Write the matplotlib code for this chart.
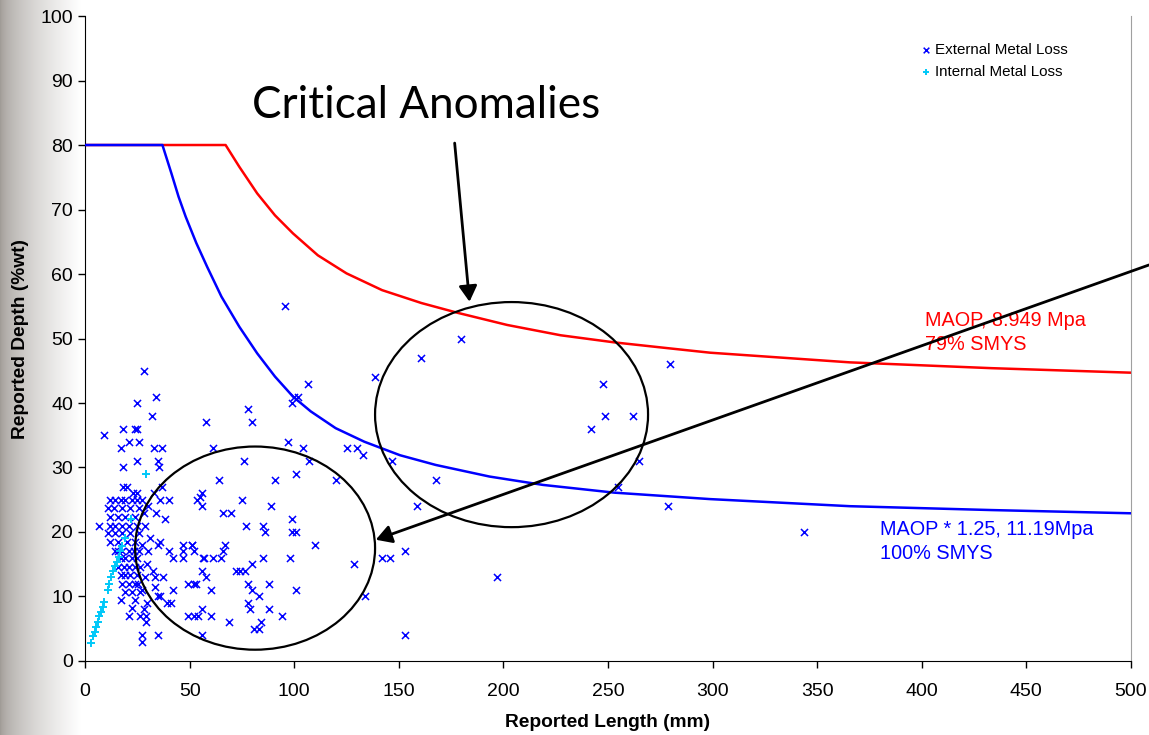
import numpy as np
import matplotlib.pyplot as plt
from matplotlib.patches import Ellipse

# limit curves
red_x = [0, 67.2, 73.8, 82.3, 90.8, 99.4, 111.3, 125.0, 142.0, 160.8, 177.9, 201.8, 227.4,
         253.0, 278.6, 298.8, 365.7, 433.4, 500]
red_y = [80, 80, 76.6, 72.5, 69.1, 66.3, 62.9, 60.1, 57.5, 55.5, 54.0, 52.1, 50.5,
         49.4, 48.5, 47.8, 46.3, 45.4, 44.7]
blue_x = [0, 37.0, 41.3, 44.7, 48.1, 53.2, 58.4, 65.2, 73.8, 82.3, 90.8, 99.4, 107.9, 119.8,
          133.5, 150.6, 167.6, 193.3, 218.9, 253.0, 298.8, 365.7, 433.4, 500]
blue_y = [80, 80, 75.6, 72.0, 68.9, 64.8, 61.1, 56.5, 51.8, 47.7, 44.1, 41.0, 38.7, 36.1,
          34.0, 31.9, 30.4, 28.6, 27.3, 26.1, 25.1, 24.0, 23.4, 22.9]

# external metal loss anomalies
ext_x = [343.7, 95.6, 138.6, 179.7, 160.8, 279.6, 247.8, 248.7, 261.8, 241.7, 146.9, 167.8,
         264.8, 158.9, 254.9, 278.8, 142, 146, 153, 196.8, 153, 128.7, 133.8,
         106.8, 100, 102, 98.8, 78, 58, 80, 97, 104, 61, 125, 130, 133, 76, 107, 64, 91,
         101, 120, 56, 53.7, 56, 75, 89, 66, 70, 99, 77, 85, 86, 99, 101, 110, 51, 52,
         67, 66, 57, 61, 65, 85, 98, 80, 72, 74, 76.5, 56, 58, 52, 60, 78, 80, 83, 88,
         101, 78, 79, 88, 56, 54, 52, 60, 94, 69, 84, 81, 83, 56,
         28, 34, 32, 25, 24.7, 26, 33, 37, 35, 35.5, 25, 37, 40, 33, 36, 55, 47, 51, 47,
         47, 56.6, 49, 53, 42, 39, 41, 49, 35, 27, 27, 29, 29, 35,
         9, 18, 24, 17, 21, 18, 18, 20, 23,
         12, 14.5, 17, 19, 22.5, 25,
         11, 13.7, 17.7, 21.7, 25.7,
         12, 16, 19.3, 24,
         6.5,
         12, 14.5, 17.7, 21, 25,
         11, 14.5, 17.7, 21.7, 25.7,
         12, 16, 20, 24,
         14.5, 16, 17.7, 21, 23.3, 25.7,
         17, 19.3, 22.5, 25,
         16, 18.5, 21, 24, 26.4,
         17, 19.3, 21.7, 25,
         17.7, 21, 24,
         19.3, 22.5, 26.4,
         17, 21, 22.5, 24, 26.4,
         24.7, 27, 30, 34, 38, 28, 28.7, 31, 27, 30, 35, 36, 40, 42, 29.5, 32.6, 33.5,
         37.4, 28.7, 25.5, 27, 33.5, 36, 29.5, 28]
ext_y = [20, 55, 44, 50, 47, 46, 43, 38, 38, 36, 31, 28,
         31, 24, 27, 24, 16, 16, 17, 13, 4, 15, 10,
         43, 41, 41, 40, 39, 37, 37, 34, 33, 33, 33, 33, 32, 31, 31, 28, 28,
         29, 28, 26, 25, 24, 25, 24, 23, 23, 22, 21, 21, 20, 20, 20, 18, 18, 17,
         18, 17, 16, 16, 16, 16, 16, 15, 14, 14, 14, 14, 13, 12, 11, 12, 11, 10, 12,
         11, 9, 8, 8, 8, 7, 7, 7, 7, 6, 6, 5, 5, 4,
         45, 41, 38, 40, 36, 34, 33, 33, 31, 30, 31, 27, 25, 26, 25, 25.5, 18, 18, 17,
         16, 16, 12, 12, 11, 9, 9, 7, 4, 4, 3, 7, 6, 10,
         35, 36, 36, 33, 34, 30, 27, 27, 26,
         25, 25, 25, 25, 25, 25,
         23.7, 23.7, 23.7, 23.7, 23.7,
         22.4, 22.4, 22.4, 22.4,
         21,
         21, 21, 21, 21, 21,
         19.8, 19.8, 19.8, 19.8, 19.8,
         18.5, 18.5, 18.5, 18.5,
         17, 17, 17, 17, 17, 17,
         16, 16, 16, 16,
         14.6, 14.6, 14.6, 14.6, 14.6,
         13.3, 13.3, 13.3, 13.3,
         12, 12, 12,
         10.7, 10.7, 10.7,
         9.5, 7, 8.2, 9.5, 7,
         26, 25, 24, 23, 22, 23, 21, 19, 18, 17, 18, 18.5, 17, 16, 15, 14, 13,
         13, 13, 12, 11, 11.5, 10, 9, 8]

# internal metal loss anomalies
int_x = [3.0, 3.8, 4.6, 5.3, 6.2, 6.8, 7.8, 8.4, 9.2, 11.0, 11.6, 12.6, 13.2, 14.5, 15.4,
         16.1, 16.9, 17.7, 18.9, 22.1, 29]
int_y = [2.8, 3.8, 4.5, 5.3, 6.1, 6.9, 7.6, 8.4, 9.2, 11.0, 11.9, 13.0, 13.9, 14.7, 15.3,
         16.2, 17.0, 17.8, 19.0, 22.0, 29]

plt.rcParams['font.family'] = ['Liberation Sans', 'DejaVu Sans']

fig = plt.figure(figsize=(11.49, 7.35), dpi=100)

# greyish photo edge on the left
bg = fig.add_axes([0, 0, 0.07, 1], zorder=-5)
g = np.linspace(0, 1, 200) ** 0.6
img = np.stack([0.62 + 0.38 * g, 0.60 + 0.40 * g, 0.58 + 0.42 * g], axis=-1)
bg.imshow(np.repeat(img[None, :, :], 2, axis=0), aspect='auto', extent=[0, 1, 0, 1])
bg.axis('off')

ax = fig.add_axes([0.074, 0.1007, 0.9103, 0.8775])

ax.plot(red_x, red_y, color='#ff0000', lw=1.8, zorder=2)
ax.plot(blue_x, blue_y, color='#0000ff', lw=1.8, zorder=3)

ax.scatter(ext_x, ext_y, marker='x', s=26, color='#0000ff', linewidths=1.1, zorder=4,
           label='External Metal Loss')
ax.scatter(int_x, int_y, marker='+', s=34, color='#00c8f8', linewidths=1.4, zorder=5,
           label='Internal Metal Loss')

ax.add_patch(Ellipse((203.9, 38.2), 130.5, 34.9, fill=False, ec='black', lw=1.6, zorder=6))
ax.add_patch(Ellipse((81.3, 17.5), 114.7, 31.5, fill=False, ec='black', lw=1.6, zorder=6))

arrow = dict(arrowstyle='-|>,head_length=0.95,head_width=0.55', lw=2, color='black',
             shrinkA=0, shrinkB=0)
ax.annotate('', xy=(183.8, 55.7), xytext=(176.7, 80.3), arrowprops=arrow, zorder=7)
ax.annotate('', xy=(139, 18.8), xytext=(508.6, 61.4), annotation_clip=False,
            arrowprops=arrow, zorder=7)

ax.text(79.8, 84.2, 'Critical Anomalies', fontsize=31.7, family='Lato', va='baseline', ha='left')

ax.text(401.5, 51.9, 'MAOP, 8.949 Mpa', color='#ff0000', fontsize=14.3, va='baseline')
ax.text(401.5, 48.2, '79% SMYS', color='#ff0000', fontsize=14.3, va='baseline')
ax.text(380, 19.5, 'MAOP * 1.25, 11.19Mpa', color='#0000ff', fontsize=14.3, va='baseline')
ax.text(380, 15.8, '100% SMYS', color='#0000ff', fontsize=14.3, va='baseline')

ax.set_xlim(0, 500)
ax.set_ylim(0, 100)
ax.set_xticks(np.arange(0, 501, 50))
ax.set_yticks(np.arange(0, 101, 10))
ax.tick_params(labelsize=14, length=5, width=1)
ax.tick_params(axis='x', pad=11)
ax.spines['top'].set_visible(False)
ax.spines['right'].set_color('#a0a0a0')
ax.set_xlabel('Reported Length (mm)', fontsize=13.8, fontweight='bold', labelpad=10)
ax.set_ylabel('Reported Depth (%wt)', fontsize=13.8, fontweight='bold', labelpad=8)

ax.legend(loc='upper left', bbox_to_anchor=(0.7955, 0.952), bbox_transform=fig.transFigure,
          frameon=False, fontsize=10.9, handlelength=0.6, handletextpad=0.3, labelspacing=0.55,
          borderpad=0, markerscale=0.8)

fig.savefig('out.png', dpi=100)
